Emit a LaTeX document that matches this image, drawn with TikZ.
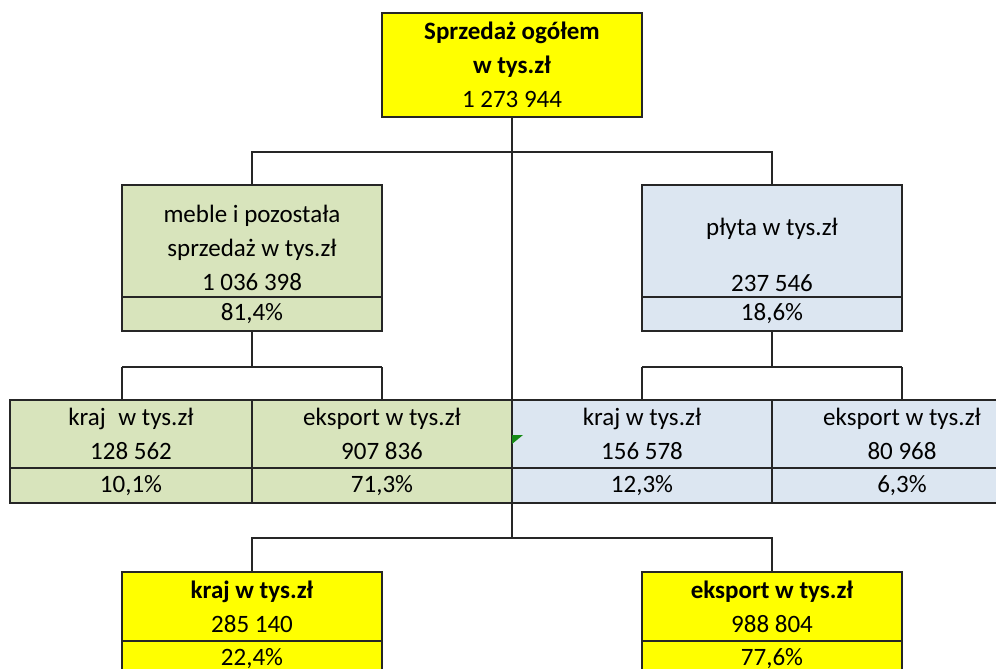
\documentclass[tikz,border=0pt]{standalone}
\usepackage{fontspec}
\setmainfont{Carlito}
\usetikzlibrary{positioning,calc}

\definecolor{sumyellow}{HTML}{FFFF00}
\definecolor{furngreen}{HTML}{D8E4BC}
\definecolor{boardblue}{HTML}{DCE6F1}
\definecolor{notegreen}{HTML}{168A16}

\begin{document}
\begin{tikzpicture}[
    x=1pt, y=1pt,
    box/.style={rectangle, draw=black!85, line width=1.5pt, outer sep=0pt, inner sep=0pt, text centered, align=center, font=\fontsize{25}{34}\selectfont},
    sumbox/.style={box, fill=sumyellow, minimum width=260pt},
    furnbox/.style={box, fill=furngreen, minimum width=260pt},
    boardbox/.style={box, fill=boardblue, minimum width=260pt},
    pct/.style={minimum height=35pt},
    link/.style={draw=black!85, line width=1.3pt}
]
\clip (0,0) rectangle (996,-669);

% ============ SUMA ============
\node[sumbox, minimum height=104pt] (total) at (512,-65) {\textbf{Sprzedaż ogółem}\\\textbf{w tys.zł}\\1 273 944};

% ============ MEBLE / PLYTA ============
\node[furnbox, minimum height=112pt, below=68pt of total, xshift=-260pt] (meble) {\rule{0pt}{31pt}meble i pozostała\\sprzedaż w tys.zł\\1 036 398};
\node[furnbox, pct, minimum height=34pt, below=0pt of meble] (meble-pct) {81,4\%};

\node[boardbox, minimum height=112pt, below=68pt of total, xshift=260pt] (plyta) {\rule{0pt}{45pt}płyta w tys.zł\\[22pt]237 546};
\node[boardbox, pct, minimum height=34pt, below=0pt of plyta] (plyta-pct) {18,6\%};

% ============ KRAJ / EKSPORT ============
\node[furnbox, minimum width=242pt, minimum height=68pt, below=69pt of meble-pct, xshift=-121pt] (kraj-m) {kraj\enspace w tys.zł\\128 562};
\node[furnbox, minimum height=68pt, right=0pt of kraj-m] (eksport-m) {eksport w tys.zł\\907 836};
\node[boardbox, minimum height=68pt, right=0pt of eksport-m] (kraj-p) {kraj w tys.zł\\156 578};
\node[boardbox, minimum height=68pt, right=0pt of kraj-p] (eksport-p) {eksport w tys.zł\\80 968};

\node[furnbox, pct, minimum width=242pt, below=0pt of kraj-m] (kraj-m-pct) {10,1\%};
\node[furnbox, pct, below=0pt of eksport-m] (eksport-m-pct) {71,3\%};
\node[boardbox, pct, below=0pt of kraj-p] (kraj-p-pct) {12,3\%};
\node[boardbox, pct, below=0pt of eksport-p] (eksport-p-pct) {6,3\%};

\fill[notegreen] ([yshift=-35pt]kraj-p.north west) -- ++(11,0) -- ++(-11,-9) -- cycle;

% ============ RAZEM KRAJ / EKSPORT ============
\node[sumbox, minimum height=69pt, below=69pt of eksport-m-pct.south west] (kraj-all) {\textbf{kraj w tys.zł}\\285 140};
\node[sumbox, pct, below=0pt of kraj-all] (kraj-all-pct) {22,4\%};
\node[sumbox, minimum height=69pt, below=69pt of kraj-p-pct.south east] (eksport-all) {\textbf{eksport w tys.zł}\\988 804};
\node[sumbox, pct, below=0pt of eksport-all] (eksport-all-pct) {77,6\%};

% ============ POLACZENIA ============
\coordinate (split) at ([yshift=-421pt]total.south);

% Suma -> meble, plyta
\draw[link] (total.south) -- ++(0,-35) -| (meble.north);
\draw[link] (total.south) -- ++(0,-35) -| (plyta.north);

% Suma -> kraj, eksport razem
\draw[link] (total.south) -- (kraj-p.north west);
\draw[link] (kraj-p-pct.south west) -- (split);
\draw[link] (split) -| (kraj-all.north);
\draw[link] (split) -| (eksport-all.north);

% Meble -> kraj, eksport
\draw[link] (meble-pct.south) -- ++(0,-36);
\draw[link] ([yshift=-36pt]meble-pct.south west) -- ([yshift=-36pt]meble-pct.south east);
\draw[link] ([yshift=-36pt]meble-pct.south west) -- (meble-pct.south west |- kraj-m.north);
\draw[link] ([yshift=-36pt]meble-pct.south east) -- (meble-pct.south east |- eksport-m.north);

% Plyta -> kraj, eksport
\draw[link] (plyta-pct.south) -- ++(0,-36);
\draw[link] ([yshift=-36pt]plyta-pct.south west) -- ([yshift=-36pt]plyta-pct.south east);
\draw[link] ([yshift=-36pt]plyta-pct.south west) -- (plyta-pct.south west |- kraj-p.north);
\draw[link] ([yshift=-36pt]plyta-pct.south east) -- (plyta-pct.south east |- eksport-p.north);

\end{tikzpicture}
\end{document}
